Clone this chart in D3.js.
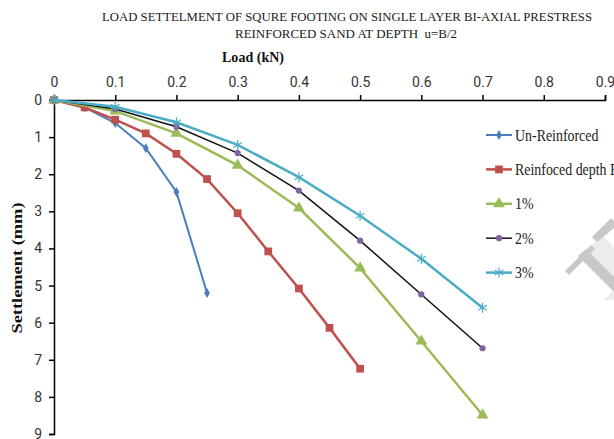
<!DOCTYPE html>
<html>
<head>
<meta charset="utf-8">
<script src="https://cdn.jsdelivr.net/npm/d3@7"></script>
<style>
  body { margin: 0; background: #fff; }
  svg { display: block; }
</style>
</head>
<body>
<svg id="chart" width="614" height="439"></svg>
<script>
// data
var loadUnreinf = [0, 0.05, 0.1, 0.15, 0.2, 0.25];
var settUnreinf = [0, 0.2, 0.62, 1.3, 2.48, 5.2];

var loadReinf = [0, 0.05, 0.1, 0.15, 0.2, 0.25, 0.3, 0.35, 0.4, 0.45, 0.5];
var settReinf = [0, 0.2, 0.53, 0.9, 1.45, 2.13, 3.05, 4.08, 5.08, 6.14, 7.24];

var loadPct = [0, 0.1, 0.2, 0.3, 0.4, 0.5, 0.6, 0.7];
var sett1 = [0, 0.3, 0.9, 1.76, 2.91, 4.53, 6.5, 8.49];
var sett2 = [0, 0.24, 0.72, 1.43, 2.44, 3.79, 5.24, 6.69];
var sett3 = [0, 0.18, 0.6, 1.21, 2.08, 3.12, 4.28, 5.6];

var xTicks = [0, 0.1, 0.2, 0.3, 0.4, 0.5, 0.6, 0.7, 0.8, 0.9];
var yTicks = [0, 1, 2, 3, 4, 5, 6, 7, 8, 9];

var seriesNames = ["Un-Reinforced", "Reinfoced depth B/2", "1%", "2%", "3%"];

var svg = d3.select("#chart");

var x = d3.scaleLinear().domain([0, 0.9]).range([54, 605]);
var y = d3.scaleLinear().domain([0, 9]).range([100, 434]);

var serif = "'Liberation Serif', 'Times New Roman', serif";

// title
var title = svg.append("g")
    .attr("font-family", serif)
    .attr("font-size", 12.5)
    .attr("fill", "#1a1a1a")
    .attr("text-anchor", "middle");
title.append("text").attr("x", 347).attr("y", 21)
    .attr("textLength", 490).attr("lengthAdjust", "spacingAndGlyphs")
    .text("LOAD SETTELMENT OF SQURE FOOTING ON SINGLE LAYER BI-AXIAL PRESTRESS");
title.append("text").attr("x", 346).attr("y", 37.5)
    .attr("textLength", 222).attr("lengthAdjust", "spacingAndGlyphs")
    .text("REINFORCED SAND AT DEPTH\u00a0 u=B/2");

// axis titles
svg.append("text")
    .attr("x", 253).attr("y", 62)
    .attr("text-anchor", "middle")
    .attr("font-family", serif)
    .attr("font-weight", "bold")
    .attr("font-size", 15.5)
    .attr("textLength", 62).attr("lengthAdjust", "spacingAndGlyphs")
    .attr("fill", "#111")
    .text("Load (kN)");

svg.append("text")
    .attr("transform", "translate(21.5,268) rotate(-90)")
    .attr("text-anchor", "middle")
    .attr("font-family", serif)
    .attr("font-weight", "bold")
    .attr("font-size", 15.5)
    .attr("textLength", 131).attr("lengthAdjust", "spacingAndGlyphs")
    .attr("fill", "#111")
    .text("Settlement (mm)");

// axes
var xAxis = svg.append("g")
    .attr("transform", "translate(0," + y(0) + ")")
    .call(d3.axisTop(x).tickValues(xTicks).tickSize(5).tickPadding(8)
        .tickFormat(function (d) { return d === 0 ? "0" : d3.format(".1f")(d); }));

var yAxis = svg.append("g")
    .attr("transform", "translate(" + x(0) + ",0)")
    .call(d3.axisLeft(y).tickValues(yTicks).tickSize(5).tickPadding(7));

[xAxis, yAxis].forEach(function (a) {
    a.select(".domain").attr("stroke", "#000").attr("stroke-width", 1.5);
    a.selectAll(".tick line").attr("stroke", "#000").attr("stroke-width", 1.5);
    a.selectAll(".tick text")
        .attr("font-family", "Roboto, 'Open Sans', sans-serif")
        .attr("font-size", 14)
        .attr("fill", "#333");
});

// series
var series = [
    { name: seriesNames[0], xs: loadUnreinf, ys: settUnreinf, line: "#4A7EBB", mark: "#4A7EBB", width: 2, sym: d3.symbolDiamond, size: 28 },
    { name: seriesNames[1], xs: loadReinf, ys: settReinf, line: "#C0504D", mark: "#C0504D", width: 2.5, sym: d3.symbolSquare, size: 60 },
    { name: seriesNames[2], xs: loadPct, ys: sett1, line: "#9BBB59", mark: "#9BBB59", width: 2.5, sym: d3.symbolTriangle, size: 60 },
    { name: seriesNames[3], xs: loadPct, ys: sett2, line: "#111111", mark: "#8064A2", width: 1.5, sym: d3.symbolCircle, size: 30 },
    { name: seriesNames[4], xs: loadPct, ys: sett3, line: "#4BACC6", mark: "#4BACC6", width: 2.5, sym: d3.symbolAsterisk, size: 70 }
];

var line = d3.line()
    .x(function (d) { return x(d[0]); })
    .y(function (d) { return y(d[1]); });

series.forEach(function (s) {
    var pts = s.xs.map(function (v, i) { return [v, s.ys[i]]; });
    var g = svg.append("g");
    g.append("path")
        .datum(pts)
        .attr("fill", "none")
        .attr("stroke", s.line)
        .attr("stroke-width", s.width)
        .attr("d", line);
    var sym = d3.symbol().type(s.sym).size(s.size);
    g.selectAll("path.m")
        .data(pts)
        .enter().append("path")
        .attr("class", "m")
        .attr("transform", function (d) { return "translate(" + x(d[0]) + "," + y(d[1]) + ")"; })
        .attr("d", sym)
        .attr("fill", s.sym === d3.symbolAsterisk ? "none" : s.mark)
        .attr("stroke", s.mark)
        .attr("stroke-width", s.sym === d3.symbolAsterisk ? 1.2 : 0);
});

// legend
var legend = svg.append("g");
series.forEach(function (s, i) {
    var ly = 135 + i * 34.4;
    legend.append("line")
        .attr("x1", 486).attr("x2", 512)
        .attr("y1", ly).attr("y2", ly)
        .attr("stroke", s.line).attr("stroke-width", s.width);
    legend.append("path")
        .attr("transform", "translate(499," + ly + ")")
        .attr("d", d3.symbol().type(s.sym).size(s.size))
        .attr("fill", s.sym === d3.symbolAsterisk ? "none" : s.mark)
        .attr("stroke", s.mark)
        .attr("stroke-width", s.sym === d3.symbolAsterisk ? 1.2 : 0);
    legend.append("text")
        .attr("transform", "translate(515," + (ly + 5.5) + ") scale(0.87,1)")
        .attr("font-family", serif)
        .attr("font-size", 16)
        .attr("fill", "#222")
        .text(s.name);
});

// faint watermark in the corner
var wm = svg.append("g");
wm.append("polygon")
    .attr("points", "582,255 602,235 614,247 614,300 604,300 614,290")
    .attr("fill", "#ececec");
wm.append("polygon")
    .attr("points", "578,256 586,249 614,277 614,292")
    .attr("fill", "#c8c8c8");
wm.append("polygon")
    .attr("points", "565,271 591,245 595,249 569,275")
    .attr("fill", "#c8c8c8");
wm.append("polygon")
    .attr("points", "592,237 611,218 614,221 614,228 597,242")
    .attr("fill", "#c8c8c8");
</script>
</body>
</html>
